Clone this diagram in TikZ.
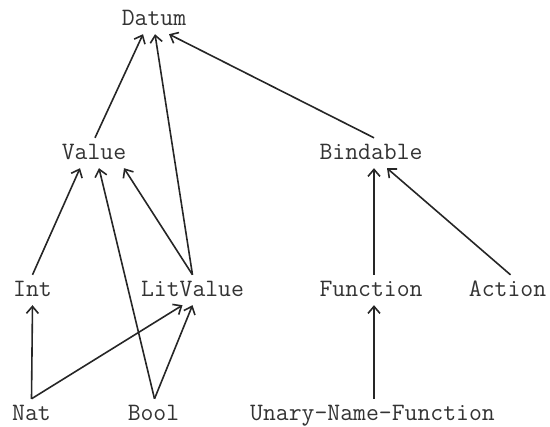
\documentclass[tikz,border=0pt]{standalone}
\usetikzlibrary{arrows.meta,calc}

\tikzset{
  type/.style={font=\ttfamily\fontsize{25}{29}\selectfont, text=black!80,
    text height=14pt, text depth=0pt, inner xsep=0pt, inner ysep=8pt},
  isa/.style={line width=1.6pt, draw=black!85,
    -{Straight Barb[length=7pt,width=12pt,line width=1.6pt]}}
}

\begin{document}
\begin{tikzpicture}[x=1pt,y=-1pt]
      \useasboundingbox (0,0) rectangle (550,427);

      \node[type] (datum)    at (154,19)    {Datum};
      \node[type] (value)    at (94,153)    {Value};
      \node[type] (bindable) at (371,153)   {Bindable};
      \node[type] (int)      at (32.5,290)  {Int};
      \node[type] (litvalue) at (192.5,290) {LitValue};
      \node[type] (function) at (371,290)   {Function};
      \node[type] (action)   at (507.5,290) {Action};
      \node[type] (nat)      at (31.5,414)  {Nat};
      \node[type] (bool)     at (153.5,414) {Bool};
      \node[type] (unary)    at (372.5,414) {Unary-Name-Function};

      \draw[isa] ($(value.north)+(1,0)$)    -- ($(datum.south)+(-11,0)$);
      \draw[isa] (litvalue.north)           -- ($(datum.south)+(1,0)$);
      \draw[isa] ($(bindable.north)+(3,0)$) -- ($(datum.south)+(15,0)$);

      \draw[isa] (int.north)                -- ($(value.south)+(-14,0)$);
      \draw[isa] ($(bool.north)+(1,0)$)     -- ($(value.south)+(5,0)$);
      \draw[isa] (litvalue.north)           -- ($(value.south)+(30,0)$);

      \draw[isa] (nat.north)                -- (int.south);
      \draw[isa] (nat.north)                -- ($(litvalue.south)+(-10,0)$);
      \draw[isa] ($(bool.north)+(1,0)$)     -- (litvalue.south);

      \draw[isa] ($(function.north)+(3,0)$) -- ($(bindable.south)+(3,0)$);
      \draw[isa] ($(action.north)+(3,0)$)   -- ($(bindable.south)+(16,0)$);
      \draw[isa] ($(unary.north)+(1.5,0)$)  -- ($(function.south)+(3,0)$);
\end{tikzpicture}
\end{document}
